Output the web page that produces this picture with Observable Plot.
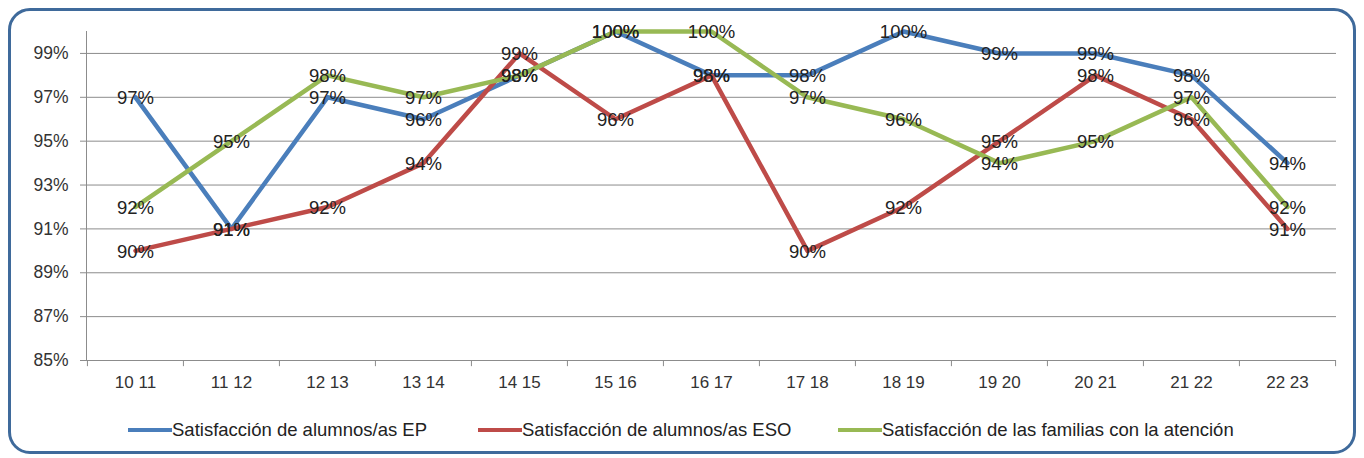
<!DOCTYPE html>
<html><head><meta charset="utf-8">
<script src="https://cdn.jsdelivr.net/npm/d3@7"></script>
<script src="https://cdn.jsdelivr.net/npm/@observablehq/plot@0.6"></script>
<style>
body{margin:0;background:#fff;font-family:"Liberation Sans",Arial,sans-serif;}
#wrap{position:relative;width:1364px;height:458px;overflow:hidden;background:#fff}
#frame{position:absolute;left:8px;top:8px;width:1342px;height:440px;border:3px solid #3f6a9b;border-radius:22px;}
#chart{position:absolute;left:0;top:0}
.lg{position:absolute;top:418px;height:24px;display:flex;align-items:center;font-size:18.5px;color:#222;white-space:nowrap}
.sw{display:inline-block;width:44px;height:4px;margin-right:0}
</style>
</head><body>
<div id="wrap"><div id="frame"></div><div id="chart"></div><div id="legend"></div></div>
<script>
const categories = ["10 11","11 12","12 13","13 14","14 15","15 16","16 17","17 18","18 19","19 20","20 21","21 22","22 23"];
const seriesNames = ["Satisfacción de alumnos/as EP","Satisfacción de alumnos/as ESO","Satisfacción de las familias con la atención"];
const epValues  = [97, 91, 97, 96, 98, 100, 98, 98, 100, 99, 99, 98, 94];
const esoValues = [90, 91, 92, 94, 99, 96, 98, 90, 92, 95, 98, 96, 91];
const famValues = [92, 95, 98, 97, 98, 100, 100, 97, 96, 94, 95, 97, 92];
const yTicks = [85, 87, 89, 91, 93, 95, 97, 99];
const colors = ["#4a7ebb", "#be4b48", "#98b954"];

const allValues = [epValues, esoValues, famValues];
const rows = [];
allValues.forEach((vals, si) => vals.forEach((v, i) => rows.push({cat: categories[i], v, s: seriesNames[si]})));

const W = 1364, ML = 86, MR = 28;
const bw = (W - ML - MR) / categories.length;

const chart = Plot.plot({
  width: W, height: 400,
  marginLeft: ML, marginRight: MR, marginTop: 31, marginBottom: 40,
  style: {fontFamily: "Liberation Sans, Arial, sans-serif", fontSize: "16px", color: "#333", background: "transparent", overflow: "visible"},
  x: {type: "band", domain: categories, padding: 0, axis: null, label: null},
  y: {domain: [85, 100], axis: null, label: null},
  color: {domain: seriesNames, range: colors},
  marks: [
    Plot.ruleY(yTicks, {stroke: "#8c8c8c", strokeOpacity: 1, insetLeft: -6}),
    Plot.frame({anchor: "left", stroke: "#8c8c8c"}),
    Plot.ruleX(categories, {x: d => d, y1: 85, y2: 84.72, dx: -bw / 2, stroke: "#8c8c8c", strokeOpacity: 1}),
    Plot.ruleX([categories[categories.length - 1]], {x: d => d, y1: 85, y2: 84.72, dx: bw / 2, stroke: "#8c8c8c", strokeOpacity: 1}),
    Plot.axisX({tickSize: 0, tickPadding: 15, fontSize: 17, fill: "#333"}),
    Plot.axisY(yTicks, {tickSize: 0, tickPadding: 18, tickFormat: d => d + "%", fontSize: 17.5, fill: "#333"}),
    Plot.line(rows, {x: "cat", y: "v", stroke: "s", z: "s", strokeWidth: 4.5}),
    Plot.text(rows, {x: "cat", y: "v", text: d => d.v + "%", fill: "#222", fontSize: 18.5, dy: 1})
  ]
});
document.getElementById("chart").append(chart);

const legendPos = [128, 478, 838];
const lg = document.getElementById("legend");
seriesNames.forEach((n, i) => {
  const d = document.createElement("div");
  d.className = "lg";
  d.style.left = legendPos[i] + "px";
  d.innerHTML = `<span class="sw" style="background:${colors[i]}"></span><span>${n}</span>`;
  lg.append(d);
});
</script>
</body></html>
